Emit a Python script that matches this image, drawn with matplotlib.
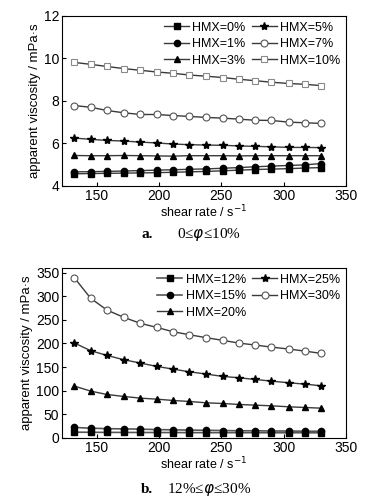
import matplotlib.pyplot as plt

plt.rcParams['font.family'] = ['Liberation Sans', 'DejaVu Sans']

shear = [132, 145, 158, 171.5, 185, 198, 211, 224, 238, 251, 264, 277, 290, 304, 317, 330]

# panel a: 0 <= phi <= 10 %
hmx0 = [4.57, 4.58, 4.59, 4.60, 4.61, 4.62, 4.64, 4.66, 4.68, 4.71, 4.74, 4.77, 4.79, 4.81, 4.84, 4.86]
hmx1 = [4.66, 4.67, 4.68, 4.70, 4.72, 4.74, 4.76, 4.78, 4.80, 4.83, 4.86, 4.90, 4.93, 4.96, 4.99, 5.05]
hmx3 = [5.43, 5.42, 5.42, 5.43, 5.42, 5.41, 5.40, 5.42, 5.42, 5.42, 5.41, 5.42, 5.42, 5.42, 5.42, 5.42]
hmx5 = [6.25, 6.19, 6.14, 6.11, 6.06, 6.02, 5.97, 5.94, 5.92, 5.91, 5.88, 5.86, 5.84, 5.81, 5.81, 5.80]
hmx7 = [7.78, 7.70, 7.55, 7.44, 7.36, 7.36, 7.31, 7.27, 7.22, 7.19, 7.14, 7.09, 7.08, 7.00, 6.97, 6.94]
hmx10 = [9.81, 9.72, 9.62, 9.52, 9.44, 9.36, 9.30, 9.22, 9.16, 9.10, 9.02, 8.95, 8.88, 8.82, 8.78, 8.72]

# panel b: 12 <= phi <= 30 %
hmx12 = [12.0, 11.8, 11.6, 11.5, 11.4, 11.3, 11.2, 11.1, 11.0, 11.0, 10.9, 10.9, 10.8, 10.8, 10.8, 10.7]
hmx15 = [22.0, 20.5, 19.5, 19.0, 18.5, 17.5, 17.0, 16.5, 16.0, 15.5, 15.0, 15.0, 14.5, 14.5, 14.0, 14.0]
hmx20 = [109.6, 99.0, 91.9, 87.7, 84.1, 82.0, 79.2, 77.1, 74.2, 72.8, 70.7, 69.3, 67.9, 65.8, 64.3, 62.9]
hmx25 = [200.8, 184.6, 174.7, 165.5, 158.4, 151.3, 145.7, 140.0, 135.1, 130.1, 127.3, 123.7, 120.2, 116.7, 113.8, 110.3]
hmx30 = [338.7, 295.6, 270.8, 255.3, 242.5, 234.0, 224.9, 218.5, 212.1, 206.5, 200.8, 196.6, 192.3, 188.1, 183.8, 178.9]

fig = plt.figure(figsize=(3.76, 4.97), dpi=100)
ax1 = fig.add_axes([0.165, 0.626, 0.755, 0.342])
ax2 = fig.add_axes([0.165, 0.119, 0.755, 0.342])

lc = '#3a3a3a'
ms = 4.5
leg_kw = dict(loc='upper right', ncol=2, frameon=False, fontsize=9, handlelength=2.0,
              columnspacing=0.5, handletextpad=0.25, labelspacing=0.36, borderaxespad=0.15,
              borderpad=0.3)

# top panel
ax1.plot(shear, hmx0, color=lc, lw=1, marker='s', ms=ms, mfc='black', mec='black', label='HMX=0%')
ax1.plot(shear, hmx1, color=lc, lw=1, marker='o', ms=ms, mfc='black', mec='black', label='HMX=1%')
ax1.plot(shear, hmx3, color=lc, lw=1, marker='^', ms=ms, mfc='black', mec='black', label='HMX=3%')
ax1.plot(shear, hmx5, color=lc, lw=1, marker='*', ms=ms + 1.5, mfc='black', mec='black', label='HMX=5%')
ax1.plot(shear, hmx7, color=lc, lw=1, marker='o', ms=ms + 0.5, mfc='white', mec='#555555', mew=0.8, label='HMX=7%')
ax1.plot(shear, hmx10, color=lc, lw=1, marker='s', ms=ms, mfc='white', mec='#8a8a8a', mew=0.8, label='HMX=10%')
ax1.set_xlim(122, 350)
ax1.set_ylim(4, 12)
ax1.set_xticks([150, 200, 250, 300, 350])
ax1.set_yticks([4, 6, 8, 10, 12])
ax1.set_xlabel('shear rate / s$^{-1}$', fontsize=9, labelpad=1)
ax1.set_ylabel('apparent viscosity / mPa·s', fontsize=9.5, labelpad=2)
ax1.legend(**leg_kw)

# bottom panel
ax2.plot(shear, hmx12, color='#555555', lw=1.2, marker='s', ms=ms, mfc='black', mec='black', label='HMX=12%')
ax2.plot(shear, hmx15, color='#555555', lw=1.2, marker='o', ms=ms, mfc='black', mec='black', label='HMX=15%')
ax2.plot(shear, hmx20, color=lc, lw=1, marker='^', ms=ms, mfc='black', mec='black', label='HMX=20%')
ax2.plot(shear, hmx25, color=lc, lw=1, marker='*', ms=ms + 1.5, mfc='black', mec='black', label='HMX=25%')
ax2.plot(shear, hmx30, color=lc, lw=1, marker='o', ms=ms + 0.5, mfc='white', mec='#555555', mew=0.8, label='HMX=30%')
ax2.set_xlim(122, 350)
ax2.set_ylim(0, 360)
ax2.set_xticks([150, 200, 250, 300, 350])
ax2.set_yticks([0, 50, 100, 150, 200, 250, 300, 350])
ax2.set_xlabel('shear rate / s$^{-1}$', fontsize=9, labelpad=1)
ax2.set_ylabel('apparent viscosity / mPa·s', fontsize=9.5, labelpad=2)
ax2.legend(**leg_kw)

for ax in (ax1, ax2):
    ax.tick_params(direction='in', length=3, labelsize=10, pad=2)
    for sp in ax.spines.values():
        sp.set_linewidth(0.8)

# captions
serif = ['Liberation Serif', 'DejaVu Serif']
fig.text(0.375, 0.528, 'a.', fontsize=11, fontweight='bold', family=serif, ha='left', va='center')
fig.text(0.47, 0.528, '0≤$\\varphi$≤10%', fontsize=11, family=serif, ha='left', va='center')
fig.text(0.375, 0.016, 'b.', fontsize=11, fontweight='bold', family=serif, ha='left', va='center')
fig.text(0.443, 0.016, '12%≤$\\varphi$≤30%', fontsize=11, family=serif, ha='left', va='center')

fig.savefig('out.png', dpi=100)
